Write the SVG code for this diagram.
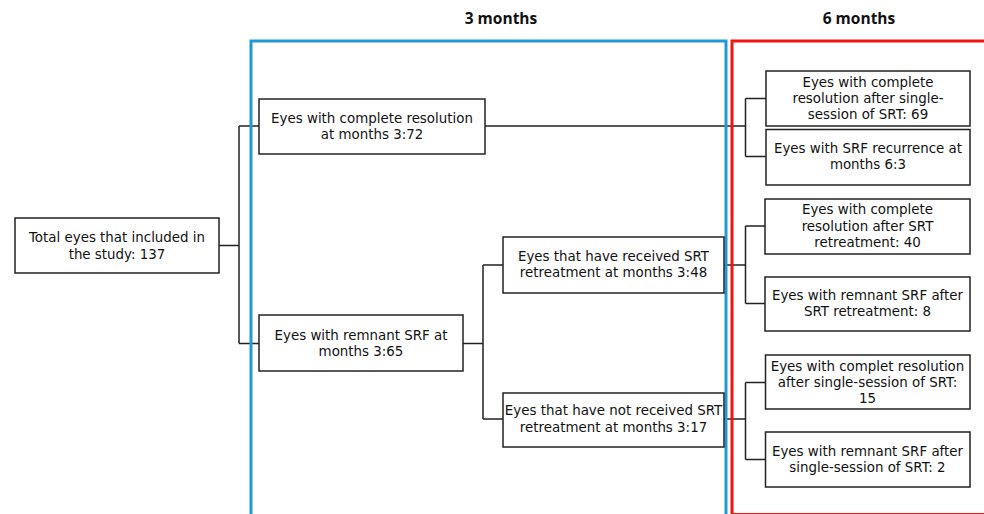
<svg xmlns="http://www.w3.org/2000/svg" width="984" height="514" viewBox="0 0 984 514">
<style>
.box{fill:#fff;stroke:#222;stroke-width:1.5}
.t{font-family:"DejaVu Sans","Open Sans",sans-serif;font-size:13.4px;fill:#111;text-anchor:middle}
.h{font-family:"Open Sans","Noto Sans",sans-serif;font-size:15.5px;font-weight:bold;fill:#111;text-anchor:middle}
.c{fill:none;stroke:#222;stroke-width:1.5}
</style>
<rect width="984" height="514" fill="#fff"/>
<text class="h" x="501" y="24">3 months</text>
<text class="h" x="859" y="24">6 months</text>
<g id="connectors">
<path class="c" d="M219 245.5H239M239 126V343.5M239 126H259M239 343.5H259"/>
<path class="c" d="M485 126H745.5M745.5 98.5V156.5M745.5 98.5H766M745.5 156.5H766"/>
<path class="c" d="M463 343.5H483M483 265V419M483 265H503M483 419H503"/>
<path class="c" d="M724 265H745.5M745.5 226V303.5M745.5 226H765M745.5 303.5H765"/>
<path class="c" d="M724 419H745.5M745.5 382.5V459.5M745.5 382.5H765M745.5 459.5H765"/>
</g>
<rect x="251" y="41" width="475" height="490" fill="none" stroke="#1e9bd7" stroke-width="3"/>
<rect x="732" y="41" width="260" height="473.5" fill="none" stroke="#f41414" stroke-width="3"/>
<g id="total">
<rect class="box" x="15" y="218" width="204" height="55"/>
<text class="t" x="117" y="242">Total eyes that included in<tspan x="117" dy="16.5">the study: 137</tspan></text>
</g>
<g id="complete3">
<rect class="box" x="259" y="99" width="226" height="55"/>
<text class="t" x="372" y="122.5">Eyes with complete resolution<tspan x="372" dy="16.5">at months 3:72</tspan></text>
</g>
<g id="remnant3">
<rect class="box" x="259" y="315" width="204" height="56"/>
<text class="t" x="361" y="339.5">Eyes with remnant SRF at<tspan x="361" dy="16.5">months 3:65</tspan></text>
</g>
<g id="retreat3">
<rect class="box" x="503" y="237" width="221" height="56"/>
<text class="t" x="613.5" y="260.5">Eyes that have received SRT<tspan x="613.5" dy="16.5">retreatment at months 3:48</tspan></text>
</g>
<g id="noretreat3">
<rect class="box" x="503" y="393" width="221" height="54"/>
<text class="t" x="613.5" y="415">Eyes that have not received SRT<tspan x="613.5" dy="16.5">retreatment at months 3:17</tspan></text>
</g>
<g id="complete69">
<rect class="box" x="766" y="71" width="204" height="55"/>
<text class="t" x="868" y="87">Eyes with complete<tspan x="868" dy="16">resolution after single-</tspan><tspan x="868" dy="16">session of SRT: 69</tspan></text>
</g>
<g id="recurrence">
<rect class="box" x="766" y="129.5" width="204" height="55.5"/>
<text class="t" x="868" y="153">Eyes with SRF recurrence at<tspan x="868" dy="16">months 6:3</tspan></text>
</g>
<g id="complete40">
<rect class="box" x="765" y="199" width="205" height="55"/>
<text class="t" x="867.5" y="214">Eyes with complete<tspan x="867.5" dy="16.5">resolution after SRT</tspan><tspan x="867.5" dy="16.5">retreatment: 40</tspan></text>
</g>
<g id="remnant8">
<rect class="box" x="765" y="277" width="205" height="54"/>
<text class="t" x="867.5" y="300">Eyes with remnant SRF after<tspan x="867.5" dy="16">SRT retreatment: 8</tspan></text>
</g>
<g id="complete15">
<rect class="box" x="765.5" y="355" width="204.5" height="54"/>
<text class="t" x="867.5" y="370.5">Eyes with complet resolution<tspan x="867.5" dy="16">after single-session of SRT:</tspan><tspan x="867.5" dy="16">15</tspan></text>
</g>
<g id="remnant2">
<rect class="box" x="765.5" y="432" width="204.5" height="55"/>
<text class="t" x="867.5" y="456">Eyes with remnant SRF after<tspan x="867.5" dy="16">single-session of SRT: 2</tspan></text>
</g>
</svg>
